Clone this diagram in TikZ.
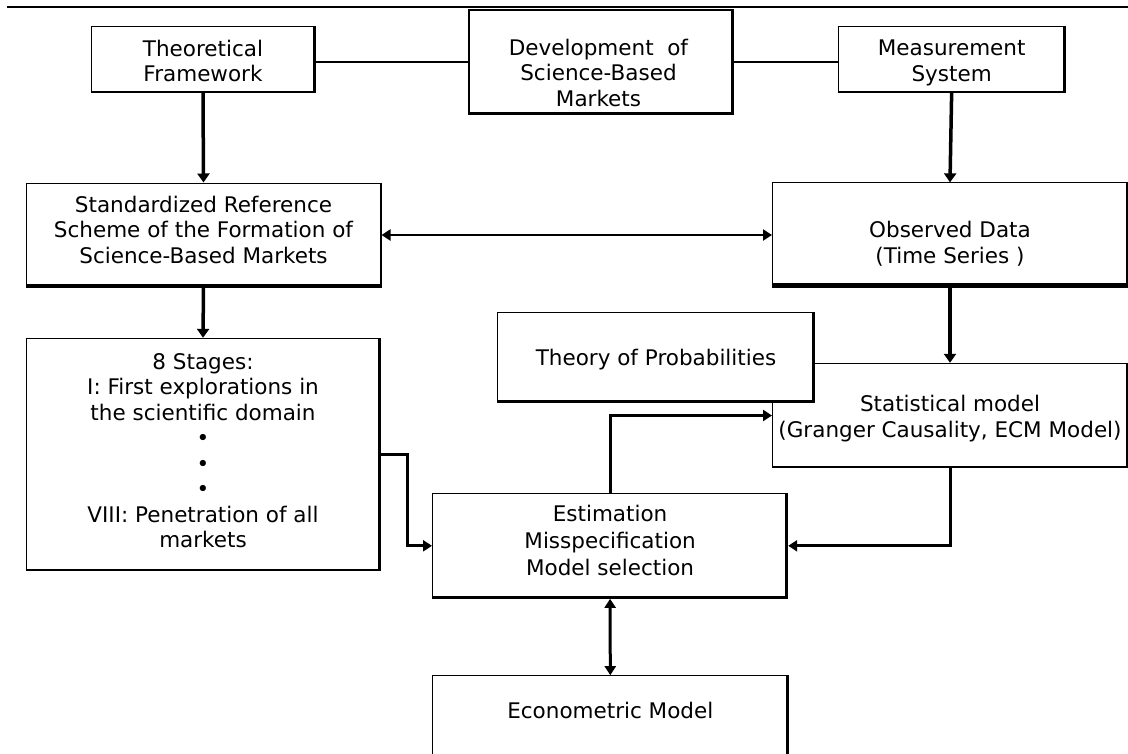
\documentclass[tikz,border=0pt]{standalone}
\usepackage{fontspec}
\setmainfont{DejaVu Sans}
\usetikzlibrary{arrows.meta}
\begin{document}
\begin{tikzpicture}[x=1pt,y=-1pt,
  txt/.style={align=center, inner sep=0pt, font=\fontsize{21.5}{25.5}\selectfont},
  box/.style={draw, line width=1pt, fill=white, inner sep=0pt},
  % heavier right and bottom edges, drawn inside the box outline
  shadow/.style={path picture={
    \draw[line width=#1, line join=miter]
      (path picture bounding box.north east) --
      (path picture bounding box.south east) --
      (path picture bounding box.south west);}},
  shadow/.default=3.5pt,
  deep/.style={path picture={
    \draw[line width=#1]
      (path picture bounding box.south east) --
      (path picture bounding box.south west);
    \draw[line width=3pt]
      (path picture bounding box.north east) --
      (path picture bounding box.south east);}},
  link/.style={line width=2pt},
  flow/.style={line width=3.5pt, -{Triangle[width=12pt,length=9pt]}},
  elbow/.style={line width=3pt, -{Triangle[width=11pt,length=9pt]}},
  both/.style={line width=2.2pt, {Triangle[width=11pt,length=9pt]}-{Triangle[width=11pt,length=9pt]}},
  boththick/.style={line width=3pt, {Triangle[width=11pt,length=9pt]}-{Triangle[width=11pt,length=9pt]}}
]
\clip (0,0) rectangle (1128,753);
\fill[white] (0,0) rectangle (1128,753);

% rule across the top
\coordinate (ruleL) at (7,7);
\coordinate (ruleR) at (1128,7);
\draw[line width=2.2pt] (ruleL) -- (ruleR);

% top row
\node[box, shadow, minimum width=224pt, minimum height=66pt] (tf) at (203,59.7) {};
\node[txt, yshift=-1.5pt] (tftext) at (tf.center) {Theoretical\\Framework};
\node[box, line width=2pt, shadow=5pt, minimum width=264pt, minimum height=104.3pt] (dev) at (601.3,62.15) {};
\node[txt] (devtext) at (598.5,72.5) {Development\ \ of\\Science-Based\\Markets};
\node[box, shadow, minimum width=226.7pt, minimum height=65.6pt] (ms) at (951.65,59.5) {};
\node[txt, yshift=-3.5pt] (mstext) at (ms.center) {Measurement\\System};

% second row
\node[box, deep=7pt, minimum width=355pt, minimum height=104pt] (std) at (203.5,235) {};
\node[txt, yshift=5.5pt] (stdtext) at (std.center)
  {Standardized Reference\\Scheme of the Formation of\\Science-Based Markets};
\node[box, deep=8pt, minimum width=355pt, minimum height=104.3pt] (obs) at (950,235) {};
\node[txt, yshift=-8.5pt] (obstext) at (obs.center) {Observed Data\\(Time Series )};

% left column
\node[box, shadow, minimum width=354pt, minimum height=232.4pt] (stages) at (203,454.5) {};
\node[txt, yshift=4pt] (stagestext) at (stages.center)
  {8 Stages:\\I: First explorations in\\the scientific domain\\•\\•\\•\\VIII: Penetration of all\\markets};

% the statistical model lies partly under the probability theory box
\node[box, shadow=3pt, minimum width=355pt, minimum height=104.4pt] (stat) at (950,415.5) {};
\node[txt, yshift=-3pt] (stattext) at (stat.center) {Statistical model\\(Granger Causality, ECM Model)};
\node[box, shadow=4pt, minimum width=316.6pt, minimum height=89.6pt] (theory) at (656,357.5) {};
\node[txt, yshift=-2pt] (theorytext) at (theory.center) {Theory of Probabilities};

% centre column
\node[box, shadow=4.5pt, minimum width=355.2pt, minimum height=105pt] (est) at (610.1,545.8) {};
\node[txt, yshift=5pt, font=\fontsize{21.5}{27}\selectfont] (esttext) at (est.center)
  {Estimation\\Misspecification\\Model selection};
\node[box, shadow=4.5pt, minimum width=356pt, minimum height=90pt] (econ) at (610.3,720.7) {};
\node[txt] (econtext) at (610.3,710) {Econometric Model};

% connectors
\draw[link] (dev.west) -- (dev.west -| tf.east);
\draw[link] (dev.east) -- (dev.east -| ms.west);
\draw[flow] (tf.south) -- (std.north);
\draw[flow] (ms.south) -- (obs.north);
\draw[both] (std.east) -- (obs.west);
\draw[flow] (std.south) -- (stages.north);
\draw[flow] (obs.south) -- (stat.north);
\draw[elbow] (stages.east) -- ++(27,0) |- (est.west);
\draw[elbow] (est.north) |- (stat.west);
\draw[elbow] (stat.south) |- (est.east);
\draw[boththick] (est.south) -- (econ.north);
\end{tikzpicture}
\end{document}
